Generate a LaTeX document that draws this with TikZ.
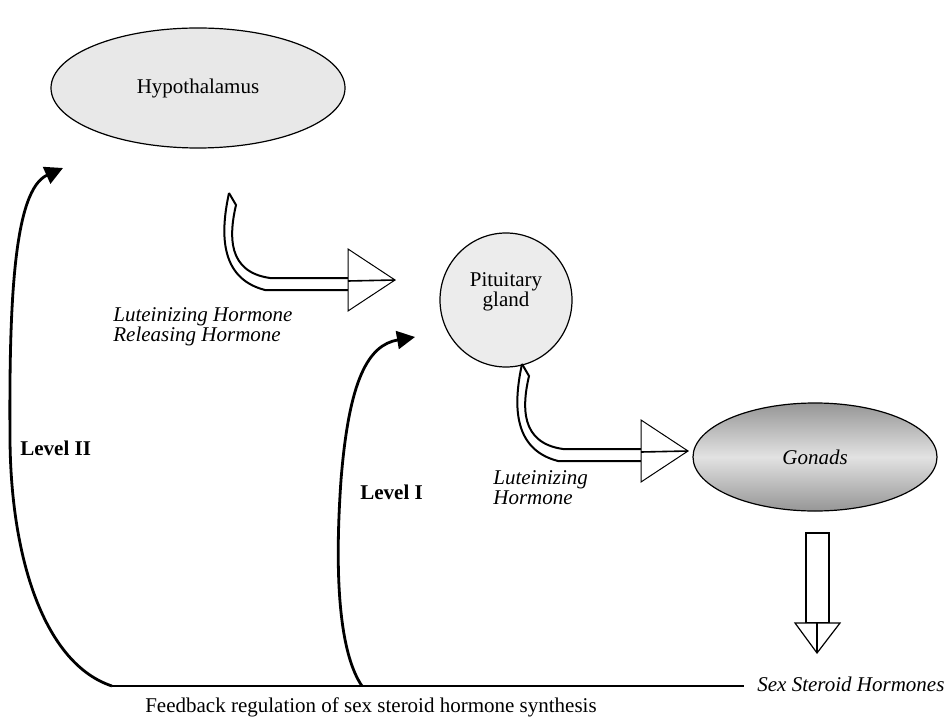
\documentclass[tikz,border=0pt]{standalone}
\usepackage{fontspec}
\setmainfont{Liberation Serif}
\usetikzlibrary{arrows.meta,positioning,calc,shapes.geometric}
\definecolor{hypoGray}{RGB}{232,232,232}
\definecolor{pitGray}{RGB}{236,236,236}
\definecolor{gonDark}{RGB}{150,150,150}
\definecolor{gonLight}{RGB}{226,226,226}

\tikzset{
  hollowarrow/.pic={
    % twisted double shaft
    \draw[line width=1pt] (-166,-87) -- (-159,-75)
        .. controls (-166,-45) and (-168,-8) .. (-125,-2) -- (-47,-2);
    \draw[line width=1pt] (-166,-87)
        .. controls (-174,-50) and (-177,-2) .. (-130,10) -- (-47,10);
    % open head
    \draw[line width=0.5pt, fill=white] (-47,-31) -- (0,0) -- (-47,31) -- cycle;
    \draw[line width=0.8pt] (-47,1) -- (0,0);
  }
}

\begin{document}
\begin{tikzpicture}[
    x=0.5pt, y=-0.5pt,
    font=\fontsize{10.5}{10}\selectfont,
    organ/.style={ellipse, draw, line width=0.6pt, inner sep=0pt},
    hormone/.style={font=\fontsize{10.5}{10}\selectfont\itshape, align=left, inner sep=0pt},
    level/.style={font=\fontsize{10.5}{10}\selectfont\bfseries, inner sep=0pt},
    feedback/.style={line width=1.4pt, -{Triangle[length=9pt, width=9pt]}}
]
    \useasboundingbox (0,0) rectangle (945,716);

    % Glands
    \node[organ, fill=hypoGray, minimum width=147pt, minimum height=60pt] (hypo) at (198,88) {Hypothalamus};
    \node[organ, fill=pitGray, minimum width=66pt, minimum height=67pt] (pit) at (506,300) {};
    \node[align=center, inner sep=0pt] (pittext) at (506,292) {Pituitary\\gland};
    \node[organ, top color=gonDark, bottom color=gonDark, middle color=gonLight,
          minimum width=122pt, minimum height=54pt] (gonads) at (815,457) {\itshape Gonads};

    % Hormone arrows
    \coordinate (lhrhtip) at (395,280);
    \coordinate (lhtip) at (688,451);
    \pic at (lhrhtip) {hollowarrow};
    \pic at (lhtip) {hollowarrow};

    % Steroid output
    \draw[line width=0.6pt] (806,533) rectangle (829,623);
    \draw[line width=0.6pt, fill=white] (795,623) -- (840,623) -- (817,653) -- cycle;
    \draw[line width=0.6pt] (817,623) -- (817,653);

    % Labels
    \node[hormone, anchor=west] (lhrh) at (113,327) {Luteinizing Hormone\\Releasing Hormone};
    \node[hormone, anchor=west] (lh) at (493,488) {Luteinizing\\Hormone};
    \node[hormone, anchor=west] (steroids) at (757,684) {Sex Steroid Hormones};
    \node[level, anchor=west] (lvtwo) at (20,448) {Level II};
    \node[level, anchor=west] (lvone) at (360,492) {Level I};
    \node[inner sep=0pt] (caption) at (371,707) {Feedback regulation of sex steroid hormone synthesis};

    % Feedback loops
    \coordinate (fbtwo) at (112,686);
    \coordinate (fbone) at (362,686);
    \coordinate (fbend) at (744,686);
    \coordinate (toptwo) at (63,168);
    \coordinate (topone) at (415,337);
    \draw[line width=1.4pt] (fbtwo) -- (fbend);
    \draw[feedback] (fbtwo) .. controls (45,664) and (11,560) .. (10,440)
        .. controls (9,300) and (14,190) .. (toptwo);
    \draw[feedback] (fbone) .. controls (340,654) and (334,580) .. (341,480)
        .. controls (349,380) and (368,345) .. (topone);
\end{tikzpicture}
\end{document}
